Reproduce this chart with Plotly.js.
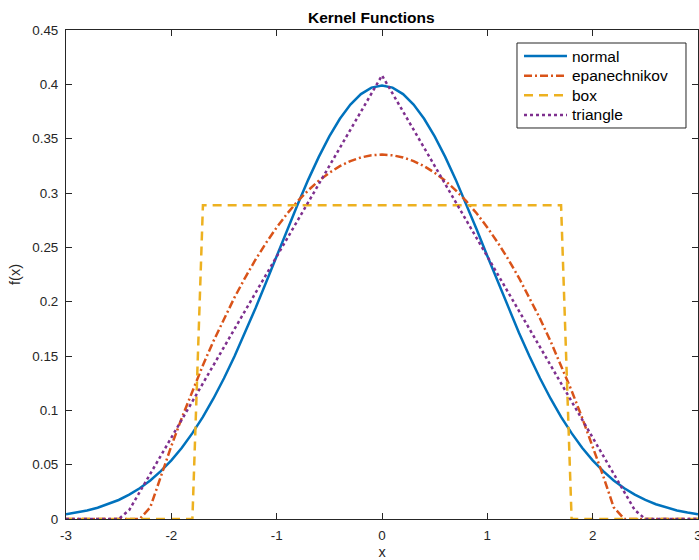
<!DOCTYPE html>
<html>
<head>
<meta charset="utf-8">
<script src="https://cdn.plot.ly/plotly-3.0.1.min.js"></script>
<style>html,body{margin:0;padding:0;background:#fff;}#chart{width:699px;height:560px;}</style>
</head>
<body>
<div id="chart"></div>
<script>
var xs = [-3.0,-2.9,-2.8,-2.7,-2.6,-2.5,-2.4,-2.3,-2.2,-2.1,-2.0,-1.9,-1.8,-1.7,-1.6,-1.5,-1.4,-1.3,-1.2,-1.1,-1.0,-0.9,-0.8,-0.7,-0.6,-0.5,-0.4,-0.3,-0.2,-0.1,0.0,
  0.1,0.2,0.3,0.4,0.5,0.6,0.7,0.8,0.9,1.0,1.1,1.2,1.3,1.4,1.5,1.6,1.7,1.8,1.9,2.0,2.1,2.2,2.3,2.4,2.5,2.6,2.7,2.8,2.9,3.0];

var normalY = [0.0044,0.0060,0.0079,0.0104,0.0136,0.0175,0.0224,0.0283,0.0355,0.0440,0.0540,0.0656,0.0790,0.0940,0.1109,0.1295,0.1497,0.1714,0.1942,0.2179,0.2420,0.2661,0.2897,0.3123,0.3332,0.3521,0.3683,0.3814,0.3910,0.3970,0.3989,
  0.3970,0.3910,0.3814,0.3683,0.3521,0.3332,0.3123,0.2897,0.2661,0.2420,0.2179,0.1942,0.1714,0.1497,0.1295,0.1109,0.0940,0.0790,0.0656,0.0540,0.0440,0.0355,0.0283,0.0224,0.0175,0.0136,0.0104,0.0079,0.0060,0.0044];

var epanY = [0,0,0,0,0,0,0,0,0.0107,0.0396,0.0671,0.0932,0.1181,0.1415,0.1637,0.1845,0.2039,0.2220,0.2388,0.2542,0.2683,0.2811,0.2925,0.3025,0.3113,0.3186,0.3247,0.3294,0.3327,0.3347,0.3354,
  0.3347,0.3327,0.3294,0.3247,0.3186,0.3113,0.3025,0.2925,0.2811,0.2683,0.2542,0.2388,0.2220,0.2039,0.1845,0.1637,0.1415,0.1181,0.0932,0.0671,0.0396,0.0107,0,0,0,0,0,0,0,0];

var boxY = [0,0,0,0,0,0,0,0,0,0,0,0,0,0.2887,0.2887,0.2887,0.2887,0.2887,0.2887,0.2887,0.2887,0.2887,0.2887,0.2887,0.2887,0.2887,0.2887,0.2887,0.2887,0.2887,0.2887,
  0.2887,0.2887,0.2887,0.2887,0.2887,0.2887,0.2887,0.2887,0.2887,0.2887,0.2887,0.2887,0.2887,0.2887,0.2887,0.2887,0.2887,0,0,0,0,0,0,0,0,0,0,0,0,0];

var triY = [0,0,0,0,0,0,0.0082,0.0249,0.0416,0.0582,0.0749,0.0916,0.1082,0.1249,0.1416,0.1582,0.1749,0.1916,0.2082,0.2249,0.2416,0.2582,0.2749,0.2916,0.3082,0.3249,0.3416,0.3582,0.3749,0.3916,0.4082,
  0.3916,0.3749,0.3582,0.3416,0.3249,0.3082,0.2916,0.2749,0.2582,0.2416,0.2249,0.2082,0.1916,0.1749,0.1582,0.1416,0.1249,0.1082,0.0916,0.0749,0.0582,0.0416,0.0249,0.0082,0,0,0,0,0,0];

var seriesNames = ['normal','epanechnikov','box','triangle'];
var xTickVals = [-3,-2,-1,0,1,2,3];
var xTickText = ['-3','-2','-1','0','1','2','3'];
var yTickVals = [0,0.05,0.1,0.15,0.2,0.25,0.3,0.35,0.4,0.45];
var yTickText = ['0','0.05','0.1','0.15','0.2','0.25','0.3','0.35','0.4','0.45'];

var axisColor = '#262626';
var fontFam = 'Liberation Sans, Arial, Helvetica, sans-serif';
var colors = ['#0072BD','#D95319','#EDB120','#7E2F8E'];
var dashes = ['solid','8px,3px,2px,3px','9px,6px','dot'];
var ySeries = [normalY, epanY, boxY, triY];

var traces = ySeries.map(function (ys, i) {
  return {x: xs, y: ys, name: seriesNames[i], mode: 'lines', showlegend: false,
          line: {color: colors[i], width: 2.5, dash: dashes[i]}};
});

// hand-built legend (paper coordinates) to match the reference's compact spacing
var legLeft = 0.7136, legRight = 0.9810, legTop = 0.9734, legBottom = 0.7996;
var lineX0 = 0.7247, lineX1 = 0.7927, textX = 0.7975;
var rowY = [0.9468, 0.9065, 0.8664, 0.8262];
var shapes = [{type: 'rect', xref: 'paper', yref: 'paper', x0: legLeft, x1: legRight, y0: legBottom, y1: legTop,
               line: {color: axisColor, width: 1}, fillcolor: '#ffffff', layer: 'above'}];
var annotations = [];
seriesNames.forEach(function (nm, i) {
  shapes.push({type: 'line', xref: 'paper', yref: 'paper', x0: lineX0, x1: lineX1, y0: rowY[i], y1: rowY[i],
               line: {color: colors[i], width: 2.5, dash: dashes[i]}, layer: 'above'});
  annotations.push({xref: 'paper', yref: 'paper', x: textX, y: rowY[i], xanchor: 'left', yanchor: 'middle',
                    text: nm, showarrow: false, font: {family: fontFam, size: 15.5, color: '#000000'}});
});

var axBase = {
  showgrid: false, zeroline: false, showline: true, linecolor: axisColor, linewidth: 1,
  mirror: 'ticks', ticks: 'inside', ticklen: 6, tickcolor: axisColor, tickwidth: 1,
  ticklabeloverflow: 'allow',
  tickfont: {family: fontFam, size: 13.4, color: axisColor}, automargin: false
};

var layout = {
  width: 699, height: 560,
  margin: {l: 66, r: 1, t: 30, b: 41, pad: 0},
  paper_bgcolor: '#ffffff', plot_bgcolor: '#ffffff',
  font: {family: fontFam, color: axisColor},
  showlegend: false,
  title: {text: '<b>Kernel Functions</b>', font: {family: fontFam, size: 15.5, color: '#000000'},
          x: 0.483, xref: 'paper', xanchor: 'center', y: 0.969, yref: 'container', yanchor: 'middle'},
  xaxis: Object.assign({}, axBase, {range: [-3, 3], tickmode: 'array', tickvals: xTickVals, ticktext: xTickText,
          ticklabelstandoff: 4,
          title: {text: 'x', font: {family: fontFam, size: 14.5, color: axisColor}, standoff: 6}}),
  yaxis: Object.assign({}, axBase, {range: [0, 0.45], tickmode: 'array', tickvals: yTickVals, ticktext: yTickText,
          ticklabelstandoff: 4,
          title: {text: 'f(x)', font: {family: fontFam, size: 14.5, color: axisColor}, standoff: 8}}),
  shapes: shapes,
  annotations: annotations
};

Plotly.newPlot('chart', traces, layout, {displayModeBar: false, staticPlot: true});
</script>
</body>
</html>
